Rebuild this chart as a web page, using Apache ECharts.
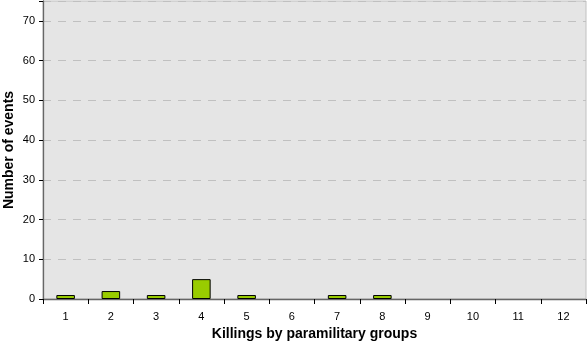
<!DOCTYPE html>
<html><head><meta charset="utf-8">
<script src="https://cdn.jsdelivr.net/npm/echarts@6/dist/echarts.min.js"></script>
<style>html,body{margin:0;padding:0;background:#fff}#c{width:587px;height:345px}</style>
</head><body><div id="c"></div>
<script>
const categories = ['1','2','3','4','5','6','7','8','9','10','11','12'];
const values = [1,2,1,5,1,0,1,1,0,0,0,0];
const yTicks = [0,10,20,30,40,50,60,70];
const chart = echarts.init(document.getElementById('c'));
const font = 'Liberation Sans, Arial, sans-serif';
chart.setOption({
  animation: false,
  grid: {left: 43, right: 1, top: 1, bottom: 46, outerBoundsMode: 'none', containLabel: false,
    show: true, backgroundColor: '#e5e5e5', borderColor: '#c0c0c0', borderWidth: 1},
  xAxis: {
    type: 'category', data: categories,
    name: 'Killings by paramilitary groups', nameLocation: 'middle', nameGap: 28, nameMoveOverlap: false,
    nameTextStyle: {fontFamily: font, fontSize: 14, fontWeight: 'bold', color: '#000'},
    axisLine: {lineStyle: {color: '#666', width: 1.3}},
    axisTick: {show: true, length: 5, lineStyle: {color: '#000'}, alignWithLabel: false},
    axisLabel: {fontFamily: font, fontSize: 11, color: '#000', margin: 12},
    splitLine: {show: false}
  },
  yAxis: {
    type: 'value', min: 0, max: 75, interval: 10,
    name: 'Number of events', nameLocation: 'middle', nameGap: 27, nameRotate: 90, nameMoveOverlap: false,
    nameTextStyle: {fontFamily: font, fontSize: 14, fontWeight: 'bold', color: '#000'},
    axisLine: {show: true, lineStyle: {color: '#666', width: 1.3}},
    axisTick: {show: true, length: 4, lineStyle: {color: '#000'}},
    axisLabel: {fontFamily: font, fontSize: 11, color: '#000', margin: 8,
      formatter: v => yTicks.includes(v) ? String(v) : ''},
    splitLine: {show: true, lineStyle: {color: '#c0c0c0', type: [8, 7]}}
  },
  series: [{
    type: 'bar', data: values.map(v => v === 0 ? '-' : v), barWidth: '41%',
    itemStyle: {color: '#99cc00', borderColor: '#000', borderWidth: 1}
  }]
});
</script></body></html>
